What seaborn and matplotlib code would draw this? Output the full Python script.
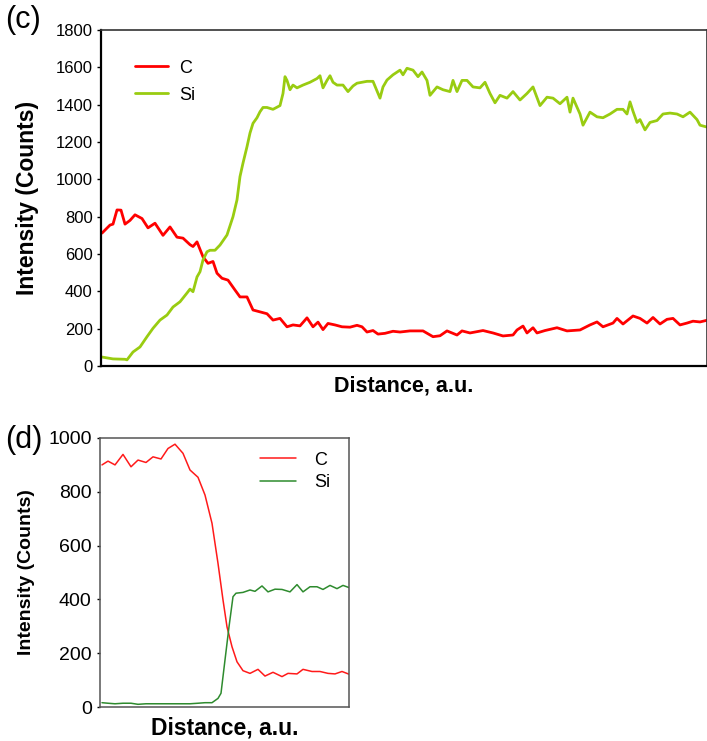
import numpy as np
import pandas as pd
import seaborn as sns
import matplotlib
matplotlib.use("Agg")
import matplotlib.pyplot as plt

# ---------------- DATA ----------------
# panel (c): line scan, distance in arbitrary units
c_c_dist = [1, 9, 12, 16, 20, 24, 29, 34, 41, 47, 54, 62, 69, 76, 82, 89, 92, 96, 102, 107,
            112, 116, 121, 127, 134, 139, 146, 152, 159, 166, 172, 179, 186, 192, 199, 206, 212, 217, 222, 227,
            234, 241, 249, 256, 261, 266, 272, 277, 284, 292, 299, 309, 322, 332, 339, 346, 356, 361, 369, 382,
            392, 402, 412, 416, 422, 426, 432, 436, 444, 456, 466, 479, 489, 496, 502, 512, 516, 522, 532, 539,
            546, 552, 559, 566, 572, 579, 586, 592, 599, 606]
c_c_counts = [712, 755, 760, 836, 835, 760, 780, 810, 790, 740, 765, 700, 745, 690, 685, 650, 640, 665, 585, 550,
              560, 497, 470, 460, 407, 370, 370, 300, 290, 280, 246, 255, 210, 220, 215, 258, 210, 235, 195, 228,
              220, 210, 208, 218, 210, 182, 190, 171, 175, 186, 182, 188, 188, 157, 162, 188, 166, 188, 177, 190,
              177, 161, 166, 193, 214, 177, 205, 177, 190, 205, 188, 193, 220, 236, 210, 230, 255, 225, 268, 255,
              230, 260, 225, 250, 255, 220, 230, 240, 236, 245]

c_si_dist = [1, 12, 24, 26, 32, 39, 46, 52, 59, 66, 72, 79, 86, 89, 92, 96, 99, 102, 106, 109,
             114, 119, 126, 132, 136, 139, 142, 146, 149, 152, 156, 159, 162, 166, 172, 179, 182, 184, 186, 189,
             192, 196, 202, 209, 216, 219, 222, 226, 229, 232, 236, 242, 247, 252, 256, 266, 272, 279, 282, 286,
             292, 299, 302, 306, 312, 317, 321, 326, 329, 336, 342, 349, 352, 356, 361, 366, 372, 379, 384, 389,
             394, 399, 406, 412, 419, 426, 432, 439, 446, 452, 459, 466, 469, 472, 479, 482, 489, 496, 502, 509,
             516, 522, 526, 529, 532, 536, 539, 544, 549, 556, 562, 569, 576, 582, 589, 596, 599, 606]
c_si_counts = [48, 38, 36, 33, 75, 102, 157, 202, 246, 273, 316, 344, 391, 412, 398, 477, 505, 568, 612, 620,
               620, 648, 702, 800, 890, 1015, 1087, 1175, 1248, 1300, 1330, 1362, 1385, 1385, 1375, 1395, 1460, 1550, 1530, 1480,
               1505, 1490, 1505, 1520, 1540, 1555, 1490, 1530, 1555, 1520, 1505, 1505, 1470, 1500, 1515, 1525, 1525, 1435, 1495, 1532,
               1560, 1585, 1560, 1595, 1585, 1550, 1575, 1530, 1450, 1495, 1480, 1470, 1530, 1470, 1530, 1530, 1495, 1490, 1520, 1460,
               1410, 1450, 1435, 1470, 1425, 1460, 1495, 1395, 1440, 1435, 1405, 1440, 1360, 1435, 1350, 1290, 1360, 1335, 1330, 1350,
               1375, 1375, 1350, 1415, 1365, 1305, 1320, 1265, 1305, 1315, 1350, 1355, 1350, 1335, 1360, 1320, 1290, 1280]

# panel (d)
d_c_dist = [2, 8, 15, 23, 31, 38, 46, 53, 61, 68, 75, 83, 90, 98, 105, 112, 118, 123, 127, 132,
            137, 143, 150, 158, 165, 173, 182, 188, 197, 203, 212, 220, 228, 235, 242, 249]
d_c_counts = [900, 914, 900, 939, 893, 918, 909, 930, 922, 961, 977, 943, 881, 854, 788, 683, 534, 398, 298, 224,
              168, 135, 125, 140, 115, 129, 113, 125, 123, 140, 132, 132, 125, 123, 132, 122]

d_si_dist = [2, 8, 15, 23, 31, 38, 46, 60, 75, 90, 98, 105, 112, 118, 121, 125, 129, 133, 136, 143,
             150, 155, 162, 168, 175, 182, 190, 197, 203, 210, 217, 223, 230, 237, 243, 249]
d_si_counts = [16, 14, 12, 14, 14, 10, 12, 12, 12, 12, 14, 16, 16, 32, 51, 175, 298, 410, 423, 426,
               435, 430, 450, 428, 438, 437, 428, 455, 428, 447, 447, 437, 452, 440, 452, 444]

elements = ["C", "Si"]
c_colors = {"C": "#ff0000", "Si": "#99cc11"}
d_colors = {"C": "#ff1a1a", "Si": "#2e8b2e"}

df_c = pd.concat([
    pd.DataFrame({"Distance": c_c_dist, "Counts": c_c_counts, "Element": "C"}),
    pd.DataFrame({"Distance": c_si_dist, "Counts": c_si_counts, "Element": "Si"}),
])
df_d = pd.concat([
    pd.DataFrame({"Distance": d_c_dist, "Counts": d_c_counts, "Element": "C"}),
    pd.DataFrame({"Distance": d_si_dist, "Counts": d_si_counts, "Element": "Si"}),
])

# ---------------- PLOT ----------------
sns.set_theme(style="white")
plt.rcParams["font.family"] = ["Liberation Sans", "DejaVu Sans"]
plt.rcParams["text.color"] = "black"
plt.rcParams["axes.labelcolor"] = "black"
plt.rcParams["ytick.color"] = "black"

fig = plt.figure(figsize=(7.07, 7.41), dpi=100)
ax_c = fig.add_axes([101 / 707, 1 - 366 / 741, 606 / 707, 336 / 741])
ax_d = fig.add_axes([100 / 707, 1 - 707 / 741, 249 / 707, 269 / 741])

sns.lineplot(data=df_c, x="Distance", y="Counts", hue="Element", hue_order=elements,
             palette=c_colors, linewidth=2.0, ax=ax_c, sort=False, estimator=None)
sns.lineplot(data=df_d, x="Distance", y="Counts", hue="Element", hue_order=elements,
             palette=d_colors, linewidth=1.1, ax=ax_d, sort=False, estimator=None)

# panel (c) styling
ax_c.set_xlim(0, 606)
ax_c.set_ylim(0, 1800)
ax_c.set_yticks(np.arange(0, 1801, 200))
ax_c.set_xticks([])
ax_c.tick_params(axis="y", labelsize=12, length=3, width=1, direction="out", left=True, pad=3,
                 colors="black")
for side in ["left", "bottom"]:
    ax_c.spines[side].set_color("black")
    ax_c.spines[side].set_linewidth(1.6)
for side in ["top", "right"]:
    ax_c.spines[side].set_color("#333333")
    ax_c.spines[side].set_linewidth(1.2)
ax_c.set_xlabel("Distance, a.u.", fontsize=15.5, fontweight="bold", labelpad=7)
ax_c.set_ylabel("Intensity (Counts)", fontsize=16.5, fontweight="bold")
ax_c.yaxis.set_label_coords(-0.102, 0.5)
ax_c.legend(loc="upper left", bbox_to_anchor=(0.03, 0.96), frameon=False, fontsize=13,
            handlelength=1.8, handletextpad=0.6, labelspacing=0.55)
fig.text(5 / 707, 1 - 20 / 741, "(c)", fontsize=22, va="center", ha="left")

# panel (d) styling
ax_d.set_xlim(0, 249)
ax_d.set_ylim(0, 1000)
ax_d.set_yticks(np.arange(0, 1001, 200))
ax_d.set_xticks([])
ax_d.tick_params(axis="y", labelsize=14, length=2, width=1, direction="out", left=True, pad=4,
                 colors="black")
for side in ["left", "bottom", "top", "right"]:
    ax_d.spines[side].set_color("#555555")
    ax_d.spines[side].set_linewidth(1.1)
ax_d.set_xlabel("Distance, a.u.", fontsize=16.5, fontweight="bold", labelpad=7)
ax_d.set_ylabel("Intensity (Counts)", fontsize=14, fontweight="bold")
ax_d.yaxis.set_label_coords(-0.262, 0.5)
ax_d.legend(loc="upper right", bbox_to_anchor=(0.99, 1.01), frameon=False, fontsize=13,
            handlelength=2.0, handletextpad=1.0, labelspacing=0.3)
fig.text(5 / 707, 1 - 440 / 741, "(d)", fontsize=22, va="center", ha="left")

fig.savefig("out.png", dpi=100)
